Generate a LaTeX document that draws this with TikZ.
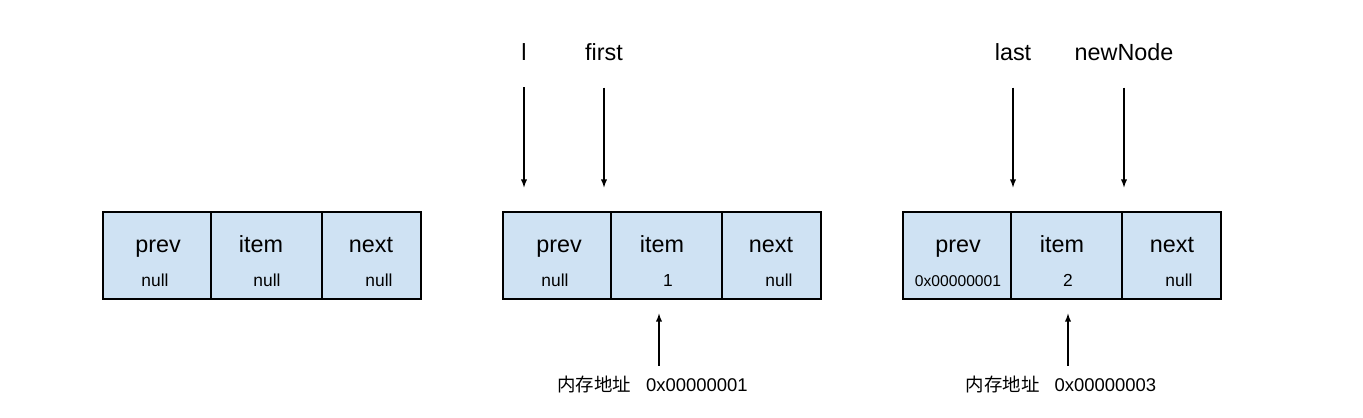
\documentclass[tikz,border=0pt]{standalone}
\usepackage{fontspec}
\setmainfont{Liberation Sans}
\newfontfamily\cjk{Noto Sans CJK SC}
\usepackage{tikz}
\definecolor{cellblue}{RGB}{207,226,243}
\tikzstyle{cell}=[rectangle, draw=black, line width=0.6pt, fill=cellblue, inner sep=0pt, minimum height=1.74cm]
\tikzstyle{fld}=[inner sep=0pt, anchor=base, font=\fontsize{13.3}{16}\selectfont]
\tikzstyle{val}=[inner sep=0pt, anchor=base, font=\fontsize{9.9}{12}\selectfont]
\tikzstyle{var}=[inner sep=0pt, anchor=base, font=\fontsize{13.3}{16}\selectfont]
\tikzstyle{addr}=[inner sep=0pt, anchor=base, font=\fontsize{10.5}{12}\selectfont]
\tikzstyle{ptr}=[->, line width=0.6pt, -latex]

\begin{document}
\begin{tikzpicture}[x=0.02cm, y=-0.02cm]
				\useasboundingbox (0,0) rectangle (1363,418);
				
				%The empty node
				\draw (157,255.5) node[cell, minimum width=2.16cm] (b1p) {};
				\draw (266.5,255.5) node[cell, minimum width=2.22cm] (b1i) {};
				\draw (371.5,255.5) node[cell, minimum width=1.98cm] (b1n) {};
				\draw (158,253) node[fld] {prev};
				\draw (261,253) node[fld] {item};
				\draw (371,253) node[fld] {next};
				\draw (155,287) node[val] {null};
				\draw (267,287) node[val] {null};
				\draw (379,287) node[val] {null};
				
				%The first node
				\draw (557,255.5) node[cell, minimum width=2.16cm] (b2p) {};
				\draw (666.5,255.5) node[cell, minimum width=2.22cm] (b2i) {};
				\draw (771.5,255.5) node[cell, minimum width=1.98cm] (b2n) {};
				\draw (559,253) node[fld] {prev};
				\draw (662,253) node[fld] {item};
				\draw (771,253) node[fld] {next};
				\draw (555,287) node[val] {null};
				\draw (668,287) node[val] {1};
				\draw (779,287) node[val] {null};
				
				%The new node
				\draw (957,255.5) node[cell, minimum width=2.16cm] (b3p) {};
				\draw (1066.5,255.5) node[cell, minimum width=2.22cm] (b3i) {};
				\draw (1171.5,255.5) node[cell, minimum width=1.98cm] (b3n) {};
				\draw (958,253) node[fld] {prev};
				\draw (1062,253) node[fld] {item};
				\draw (1172,253) node[fld] {next};
				\draw (958,287) node[val, font=\fontsize{8.9}{12}\selectfont] {0x00000001};
				\draw (1068,287) node[val] {2};
				\draw (1179,287) node[val] {null};
				
				%The variables
				\draw (524,61) node[var] (l) {l};
				\draw (604,61) node[var] (first) {first};
				\draw (1013,61) node[var] (last) {last};
				\draw (1124,61) node[var] (newNode) {newNode};
				
				\draw[ptr, shorten <=0.52cm, shorten >=0.48cm] (l) -- (l |- b2p.north);
				\draw[ptr, shorten <=0.52cm, shorten >=0.48cm] (first) -- (first |- b2p.north);
				\draw[ptr, shorten <=0.52cm, shorten >=0.48cm] (last) -- (last |- b3p.north);
				\draw[ptr, shorten <=0.52cm, shorten >=0.48cm] (newNode) -- (newNode |- b3p.north);
				
				%The addresses
				\draw (652.5,392) node[addr] (a1) {{\cjk 内存地址}\hspace{0.3cm}0x00000001};
				\draw (1061,392) node[addr] (a3) {{\cjk 内存地址}\hspace{0.3cm}0x00000003};
				\coordinate (m1) at (659,366);
				\coordinate (m3) at (1068,366);
				
				\draw[ptr, shorten >=0.28cm] (m1) -- (m1 |- b2i.south);
				\draw[ptr, shorten >=0.28cm] (m3) -- (m3 |- b3i.south);
			\end{tikzpicture}
\end{document}
